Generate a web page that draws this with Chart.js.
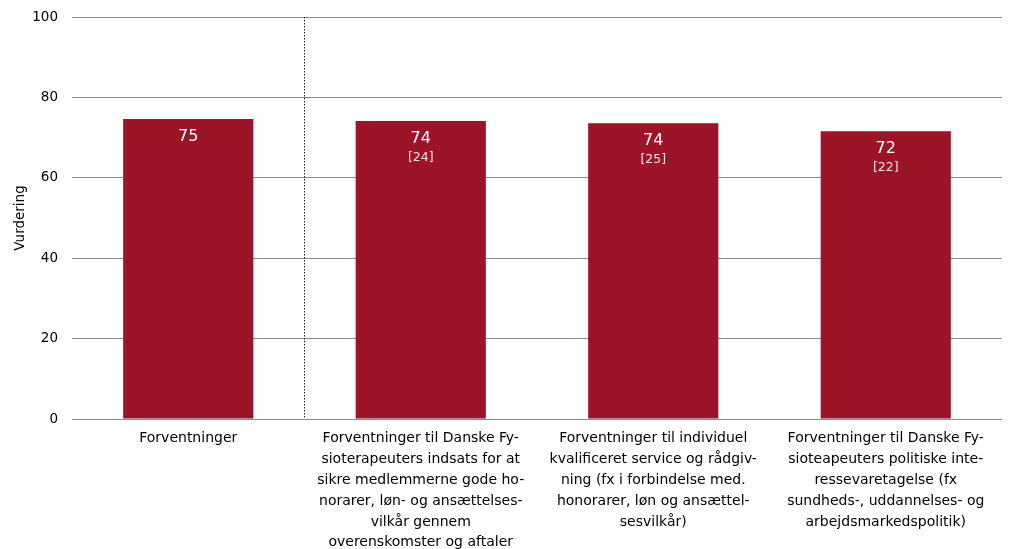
<!DOCTYPE html>
<html>
<head>
<meta charset="utf-8">
<script src="https://cdn.jsdelivr.net/npm/chart.js@4/dist/chart.umd.min.js"></script>
<style>
html,body{margin:0;padding:0;background:#fff;}
#wrap{width:1010px;height:549px;position:relative;}
</style>
</head>
<body>
<div id="wrap"><canvas id="c" width="1010" height="549"></canvas></div>
<script>
const categories = [
  ["Forventninger"],
  ["Forventninger til Danske Fy-","sioterapeuters indsats for at","sikre medlemmerne gode ho-","norarer, løn- og ansættelses-","vilkår gennem","overenskomster og aftaler"],
  ["Forventninger til individuel","kvalificeret service og rådgiv-","ning (fx i forbindelse med.","honorarer, løn og ansættel-","sesvilkår)"],
  ["Forventninger til Danske Fy-","sioteapeuters politiske inte-","ressevaretagelse (fx","sundheds-, uddannelses- og","arbejdsmarkedspolitik)"]
];
const values = [74.6, 74.1, 73.6, 71.6];
const valueLabels = ["75", "74", "74", "72"];
const countLabels = [null, "[24]", "[25]", "[22]"];
const yTicks = [0, 20, 40, 60, 80, 100];

const FONT = "'DejaVu Sans', Verdana, sans-serif";

const barLabels = {
  id: 'barLabels',
  afterDatasetsDraw(chart) {
    const ctx = chart.ctx;
    const meta = chart.getDatasetMeta(0);
    ctx.save();
    ctx.textAlign = 'center';
    ctx.textBaseline = 'middle';
    meta.data.forEach((bar, i) => {
      ctx.fillStyle = '#ffffff';
      ctx.font = "16px " + FONT;
      ctx.fillText(valueLabels[i], bar.x, bar.y + 18);
      if (countLabels[i]) {
        ctx.fillStyle = 'rgba(255,255,255,0.88)';
        ctx.font = "12.5px " + FONT;
        ctx.fillText(countLabels[i], bar.x, bar.y + 37);
      }
    });
    ctx.restore();
  }
};

const divider = {
  id: 'divider',
  afterDatasetsDraw(chart) {
    const x = chart.scales.x;
    const pos = (x.getPixelForValue(0) + x.getPixelForValue(1)) / 2;
    const ctx = chart.ctx;
    ctx.save();
    ctx.strokeStyle = '#222';
    ctx.lineWidth = 1;
    ctx.setLineDash([1.5, 1.5]);
    ctx.beginPath();
    ctx.moveTo(Math.round(pos) - 0.5, chart.chartArea.top);
    ctx.lineTo(Math.round(pos) - 0.5, chart.chartArea.bottom);
    ctx.stroke();
    ctx.restore();
  }
};

new Chart(document.getElementById('c'), {
  type: 'bar',
  data: {
    labels: categories,
    datasets: [{
      data: values,
      backgroundColor: '#9b1427',
      barPercentage: 0.56,
      categoryPercentage: 1.0
    }]
  },
  options: {
    responsive: false,
    animation: false,
    devicePixelRatio: 1,
    layout: { padding: { top: 17, right: 8, left: 0, bottom: 0 } },
    plugins: { legend: { display: false }, tooltip: { enabled: false } },
    scales: {
      x: {
        grid: { display: false },
        border: { display: false },
        ticks: {
          color: '#000',
          font: { family: FONT, size: 14, lineHeight: 1.49 },
          maxRotation: 0, autoSkip: false, padding: 1
        },
        afterFit(s) { s.height = 130; }
      },
      y: {
        min: 0, max: 100,
        afterBuildTicks(s) { s.ticks = yTicks.map(v => ({ value: v })); },
        grid: { color: '#8a8a8a', lineWidth: 1, drawTicks: true, tickLength: 14, tickColor: 'rgba(0,0,0,0)' },
        border: { display: false },
        ticks: { color: '#000', font: { family: FONT, size: 13.5 }, padding: 0 },
        title: { display: true, text: 'Vurdering', color: '#000', font: { family: FONT, size: 13.5 }, padding: { top: 12, bottom: 0 } },
        afterFit(s) { s.width = 72; }
      }
    }
  },
  plugins: [barLabels, divider]
});
</script>
</body>
</html>
